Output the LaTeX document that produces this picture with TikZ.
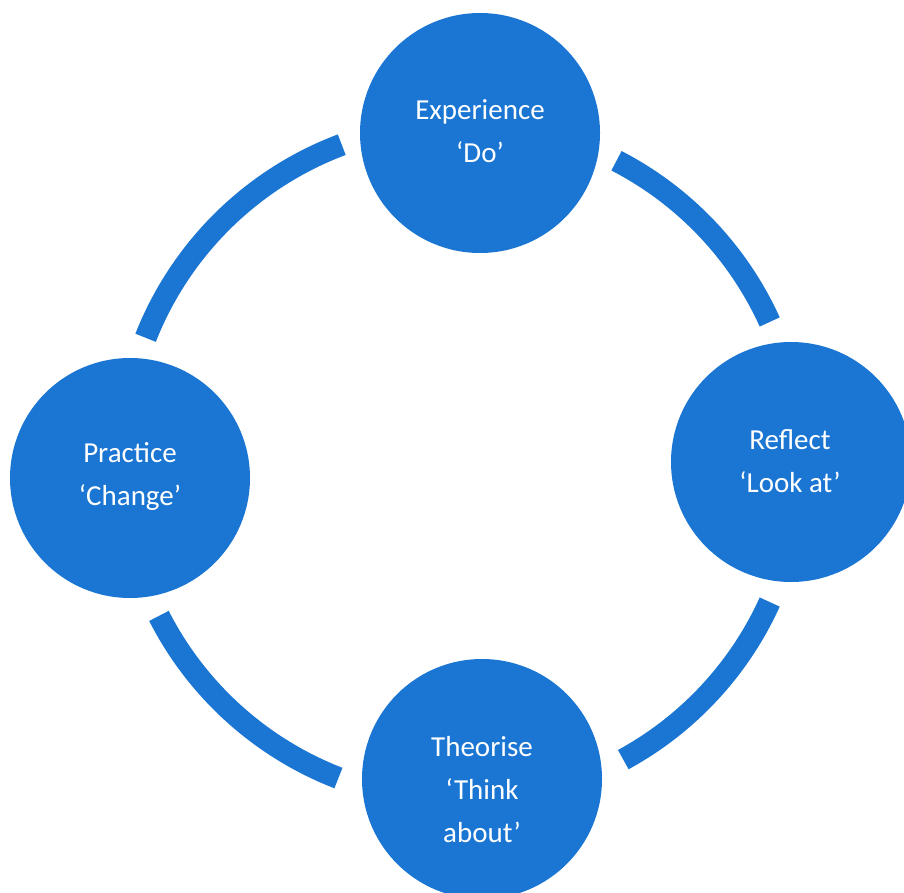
\documentclass[tikz,border=0pt]{standalone}
\usepackage{fontspec}
\setmainfont{Carlito}
\usetikzlibrary{positioning}
\definecolor{cycleblue}{RGB}{26,118,210}

\begin{document}
\begin{tikzpicture}[x = 1pt, y = -1pt,
  disc/.style = {fill = cycleblue, shape = circle, minimum size = 240pt, inner sep = 0pt},
  words/.style = {text = white, align = center, inner sep = 0pt, font = \fontsize{29}{43}\selectfont},
  ring/.style = {draw = cycleblue, line width = 22pt, line cap = butt}]
\useasboundingbox (0,0) rectangle (904,893);
\coordinate (hub) at (461,462);
\node[disc] (experience) at (480,133) {};
\node[disc] (reflect)    at (791,462) {};
\node[disc] (theorise)   at (482,779) {};
\node[disc] (practice)   at (130,478) {};
\node[words] (experienceText) at ([yshift = 2pt]experience) {Experience\\‘Do’};
\node[words] (reflectText)    at ([xshift = -1pt, yshift = 1pt]reflect) {Reflect\\‘Look at’};
\node[words] (theoriseText)   at ([yshift = -11pt]theorise) {Theorise\\‘Think\\about’};
\node[words] (practiceText)   at ([yshift = 2pt]practice) {Practice\\‘Change’};
% the ring between the circles
\draw[ring] ([shift = {(201.5:339)}]hub) arc[start angle = 201.5, end angle = 249.4, radius = 339];
\draw[ring] ([shift = {(297.3:339)}]hub) arc[start angle = 297.3, end angle = 335.6, radius = 339];
\draw[ring] ([shift = {(24.4:339)}]hub)  arc[start angle = 24.4,  end angle = 61.4,  radius = 339];
\draw[ring] ([shift = {(111.2:339)}]hub) arc[start angle = 111.2, end angle = 153,   radius = 339];
\end{tikzpicture}
\end{document}
